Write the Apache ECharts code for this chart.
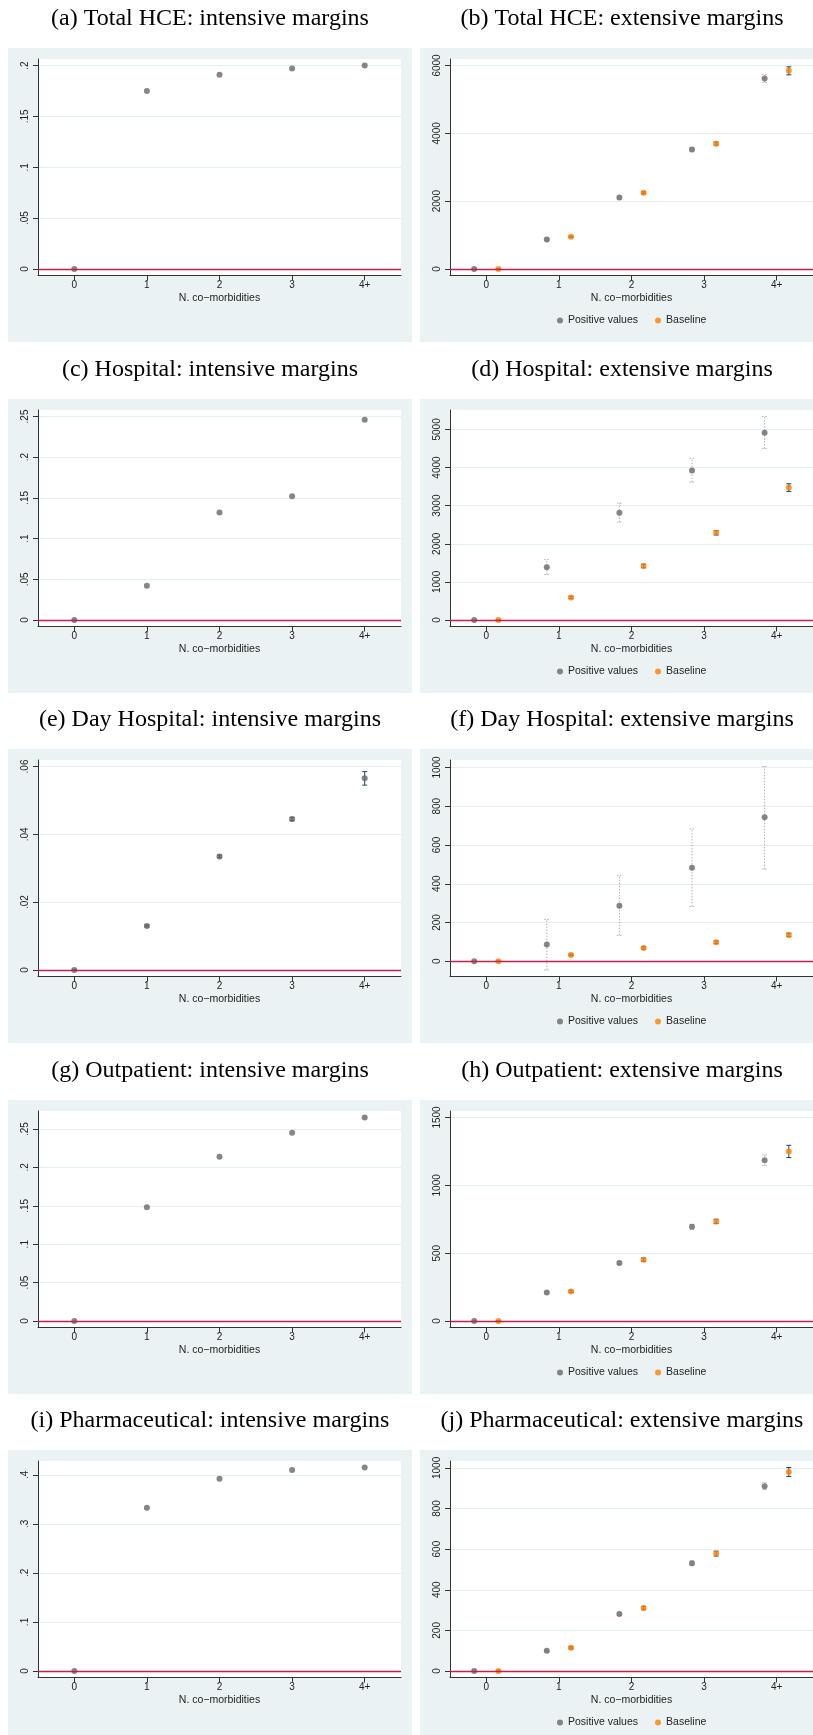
<!DOCTYPE html>
<html>
<head>
<meta charset="utf-8">
<script src="https://cdn.jsdelivr.net/npm/echarts@6/dist/echarts.min.js"></script>
<style>
  html, body { margin: 0; padding: 0; background: #ffffff; }
  #chart { width: 813px; height: 1735px; }
</style>
</head>
<body>
<div id="chart"></div>
<script>
// ---- Data -------------------------------------------------------------
const categories = ['0', '1', '2', '3', '4+'];

const titles = [
  '(a) Total HCE: intensive margins',
  '(b) Total HCE: extensive margins',
  '(c) Hospital: intensive margins',
  '(d) Hospital: extensive margins',
  '(e) Day Hospital: intensive margins',
  '(f) Day Hospital: extensive margins',
  '(g) Outpatient: intensive margins',
  '(h) Outpatient: extensive margins',
  '(i) Pharmaceutical: intensive margins',
  '(j) Pharmaceutical: extensive margins'
];

// intensive margins
const totalInt = [0, 0.175, 0.191, 0.197, 0.200];
const hospInt = [0, 0.042, 0.132, 0.152, 0.246];
const dayInt = [0, 0.013, 0.0335, 0.0445, 0.0565];
const dayIntLo = [0, 0.0127, 0.0331, 0.0440, 0.0545];
const dayIntHi = [0, 0.0133, 0.0339, 0.0450, 0.0585];
const outInt = [0, 0.148, 0.214, 0.245, 0.265];
const pharmInt = [0, 0.333, 0.392, 0.410, 0.415];

// extensive margins: positive values and baseline, with confidence bounds
const totalPos = [0, 873, 2108, 3520, 5618];
const totalPosLo = [0, 840, 2060, 3460, 5500];
const totalPosHi = [0, 906, 2156, 3580, 5736];
const totalBase = [0, 951, 2245, 3696, 5843];
const totalBaseLo = [0, 935, 2215, 3650, 5725];
const totalBaseHi = [0, 967, 2275, 3742, 5961];

const hospPos = [0, 1383, 2817, 3922, 4913];
const hospPosLo = [0, 1191, 2565, 3617, 4496];
const hospPosHi = [0, 1583, 3070, 4243, 5339];
const hospBase = [0, 591, 1417, 2287, 3478];
const hospBaseLo = [0, 560, 1370, 2230, 3374];
const hospBaseHi = [0, 622, 1464, 2344, 3574];

const dayPos = [0, 86, 286, 482, 743];
const dayPosLo = [0, -45, 134, 283, 475];
const dayPosHi = [0, 216, 442, 683, 1005];
const dayBase = [0, 33, 69, 98, 136];
const dayBaseLo = [0, 29, 63, 91, 127];
const dayBaseHi = [0, 37, 75, 105, 145];

const outPos = [0, 210, 427, 694, 1185];
const outPosLo = [0, 203, 415, 676, 1145];
const outPosHi = [0, 217, 439, 712, 1225];
const outBase = [0, 218, 452, 734, 1250];
const outBaseLo = [0, 210, 440, 718, 1205];
const outBaseHi = [0, 226, 464, 750, 1295];

const pharmPos = [0, 100, 281, 531, 910];
const pharmPosLo = [0, 96, 274, 520, 893];
const pharmPosHi = [0, 104, 288, 542, 927];
const pharmBase = [0, 114, 310, 578, 980];
const pharmBaseLo = [0, 109, 302, 566, 958];
const pharmBaseHi = [0, 119, 318, 590, 1002];

// y-axis tick values
const ticksTotalInt = [0, 0.05, 0.1, 0.15, 0.2];
const ticksTotalExt = [0, 2000, 4000, 6000];
const ticksHospInt = [0, 0.05, 0.1, 0.15, 0.2, 0.25];
const ticksHospExt = [0, 1000, 2000, 3000, 4000, 5000];
const ticksDayInt = [0, 0.02, 0.04, 0.06];
const ticksDayExt = [0, 200, 400, 600, 800, 1000];
const ticksOutInt = [0, 0.05, 0.1, 0.15, 0.2, 0.25];
const ticksOutExt = [0, 500, 1000, 1500];
const ticksPharmInt = [0, 0.1, 0.2, 0.3, 0.4];
const ticksPharmExt = [0, 200, 400, 600, 800, 1000];

const legendNames = ['Positive values', 'Baseline'];
const xTitle = 'N. co\u2212morbidities';

// ---- Styling ----------------------------------------------------------
const SANS = '"Liberation Sans", Arial, Helvetica, sans-serif';
const SERIF = '"Liberation Serif", "Times New Roman", serif';
const GRAY = '#686868';
const ORANGE = '#ff7f00';
const NAVY = '#1a476f';
const CI_LIGHT = '#a3b4c6';
const ZERO_LINE = '#c41f4a';
const REGION_BG = '#eaf2f3';
const GRID_LINE = '#e4eef0';
const AXIS = '#333333';
const DODGE = 1 / 6;

const COL_LEFT = [8, 420];
const ROW_TOP = [48, 399, 749, 1100, 1450];
const PANEL_W = 404, PANEL_H = 294;
const PLOT_OFF_X = 30, PLOT_OFF_Y = 11, PLOT_W = 363, PLOT_H = 216.5;
const PLOT_MARGIN = 6.5;

// ---- Panels -----------------------------------------------------------
const panels = [
  { kind: 'int', val: totalInt, ticks: ticksTotalInt },
  { kind: 'ext', pos: totalPos, posLo: totalPosLo, posHi: totalPosHi,
    base: totalBase, baseLo: totalBaseLo, baseHi: totalBaseHi, ticks: ticksTotalExt },
  { kind: 'int', val: hospInt, ticks: ticksHospInt },
  { kind: 'ext', pos: hospPos, posLo: hospPosLo, posHi: hospPosHi,
    base: hospBase, baseLo: hospBaseLo, baseHi: hospBaseHi, ticks: ticksHospExt },
  { kind: 'int', val: dayInt, lo: dayIntLo, hi: dayIntHi, ticks: ticksDayInt },
  { kind: 'ext', pos: dayPos, posLo: dayPosLo, posHi: dayPosHi,
    base: dayBase, baseLo: dayBaseLo, baseHi: dayBaseHi, ticks: ticksDayExt },
  { kind: 'int', val: outInt, ticks: ticksOutInt },
  { kind: 'ext', pos: outPos, posLo: outPosLo, posHi: outPosHi,
    base: outBase, baseLo: outBaseLo, baseHi: outBaseHi, ticks: ticksOutExt },
  { kind: 'int', val: pharmInt, ticks: ticksPharmInt },
  { kind: 'ext', pos: pharmPos, posLo: pharmPosLo, posHi: pharmPosHi,
    base: pharmBase, baseLo: pharmBaseLo, baseHi: pharmBaseHi, ticks: ticksPharmExt }
];

function fmtTick(v) {
  if (Math.abs(v) < 1e-12) return '0';
  return String(+v.toFixed(6)).replace(/^0\./, '.').replace(/^-0\./, '-.');
}

function ciRenderer(color, dotted) {
  return function (params, api) {
    const x = api.value(0);
    const a = api.coord([x, api.value(1)]);
    const b = api.coord([x, api.value(2)]);
    const cw = 2.5;
    const style = { stroke: color, lineWidth: 1, lineDash: dotted ? [1.5, 1.5] : null, fill: null };
    return {
      type: 'group',
      children: [
        { type: 'line', shape: { x1: a[0], y1: a[1], x2: b[0], y2: b[1] }, style: style },
        { type: 'line', shape: { x1: a[0] - cw, y1: a[1], x2: a[0] + cw, y2: a[1] }, style: style },
        { type: 'line', shape: { x1: b[0] - cw, y1: b[1], x2: b[0] + cw, y2: b[1] }, style: style }
      ]
    };
  };
}

const grids = [], xAxes = [], yAxes = [], series = [], legends = [], graphics = [];

panels.forEach(function (p, k) {
  const row = Math.floor(k / 2), col = k % 2;
  const L = COL_LEFT[col], T = ROW_TOP[row];

  graphics.push({
    type: 'rect', z: -10, silent: true,
    shape: { x: L, y: T, width: PANEL_W, height: PANEL_H },
    style: { fill: REGION_BG }
  });
  graphics.push({
    type: 'text', silent: true, x: L + PANEL_W / 2, y: T - 29,
    style: { text: titles[k], fontFamily: SERIF, fontSize: 24, fill: '#000',
             align: 'center', verticalAlign: 'middle' }
  });

  grids.push({
    left: L + PLOT_OFF_X, top: T + PLOT_OFF_Y, width: PLOT_W, height: PLOT_H,
    show: true, backgroundColor: '#ffffff', borderWidth: 0
  });

  // value range covering data, bounds and ticks, plus a fixed pixel margin
  let vals = p.ticks.slice();
  if (p.kind === 'int') {
    vals = vals.concat(p.val, p.lo || [], p.hi || []);
  } else {
    vals = vals.concat(p.pos, p.posLo, p.posHi, p.base, p.baseLo, p.baseHi);
  }
  const lo = Math.min.apply(null, vals), hi = Math.max.apply(null, vals);
  const upp = (hi - lo) / (PLOT_H - 2 * PLOT_MARGIN);
  const yMin = lo - PLOT_MARGIN * upp, yMax = hi + PLOT_MARGIN * upp;

  const xTickVals = categories.map(function (c, i) { return i; });
  xAxes.push({
    type: 'value', gridIndex: k, min: -0.5, max: 4.5,
    axisLine: { show: true, onZero: false, lineStyle: { color: AXIS, width: 1 } },
    axisTick: { show: true, customValues: xTickVals, length: 5, lineStyle: { color: AXIS } },
    axisLabel: { customValues: xTickVals, formatter: function (v) { return categories[Math.round(v)]; },
                 margin: 5, fontSize: 10, color: '#222', fontFamily: SANS },
    splitLine: { show: false },
    name: xTitle, nameLocation: 'middle', nameGap: 17,
    nameTextStyle: { fontSize: 10.5, color: '#222', fontFamily: SANS }
  });
  yAxes.push({
    type: 'value', gridIndex: k, min: yMin, max: yMax,
    axisLine: { show: true, onZero: false, lineStyle: { color: AXIS, width: 1 } },
    axisTick: { show: true, customValues: p.ticks, length: 5, lineStyle: { color: AXIS } },
    axisLabel: { customValues: p.ticks, formatter: fmtTick, rotate: 90, margin: 8,
                 fontSize: 10, color: '#222', fontFamily: SANS },
    splitLine: { show: true, lineStyle: { color: GRID_LINE, width: 1 } }
  });

  // reference line at zero
  series.push({
    type: 'line', xAxisIndex: k, yAxisIndex: k, data: [], silent: true, z: 2,
    markLine: {
      silent: true, symbol: ['none', 'none'], label: { show: false },
      lineStyle: { color: ZERO_LINE, width: 1.4, type: 'solid' },
      data: [{ yAxis: 0 }]
    }
  });

  if (p.kind === 'int') {
    if (p.lo) {
      series.push({
        type: 'custom', xAxisIndex: k, yAxisIndex: k, z: 3, silent: true,
        renderItem: ciRenderer(NAVY, false), encode: { x: 0, y: [1, 2] },
        data: p.val.map(function (v, i) { return [i, p.lo[i], p.hi[i]]; })
      });
    }
    series.push({
      type: 'scatter', name: 'Margins', xAxisIndex: k, yAxisIndex: k, z: 4, silent: true,
      symbol: 'circle', symbolSize: 6, itemStyle: { color: GRAY },
      data: p.val.map(function (v, i) { return [i, v]; })
    });
  } else {
    series.push({
      type: 'custom', xAxisIndex: k, yAxisIndex: k, z: 3, silent: true,
      renderItem: ciRenderer(CI_LIGHT, true), encode: { x: 0, y: [1, 2] },
      data: p.pos.map(function (v, i) { return [i - DODGE, p.posLo[i], p.posHi[i]]; })
    });
    series.push({
      type: 'custom', xAxisIndex: k, yAxisIndex: k, z: 3, silent: true,
      renderItem: ciRenderer(NAVY, false), encode: { x: 0, y: [1, 2] },
      data: p.base.map(function (v, i) { return [i + DODGE, p.baseLo[i], p.baseHi[i]]; })
    });
    series.push({
      type: 'scatter', name: legendNames[0], xAxisIndex: k, yAxisIndex: k, z: 4, silent: true,
      symbol: 'circle', symbolSize: 6, itemStyle: { color: GRAY },
      data: p.pos.map(function (v, i) { return [i - DODGE, v]; })
    });
    series.push({
      type: 'scatter', name: legendNames[1], xAxisIndex: k, yAxisIndex: k, z: 4, silent: true,
      symbol: 'circle', symbolSize: 6, itemStyle: { color: ORANGE },
      data: p.base.map(function (v, i) { return [i + DODGE, v]; })
    });
    legends.push({
      data: legendNames, left: L + 132, top: T + 262, orient: 'horizontal',
      icon: 'circle', itemWidth: 6, itemHeight: 6, itemGap: 17, selectedMode: false,
      textStyle: { fontSize: 10.5, color: '#222', fontFamily: SANS }
    });
  }
});

const chart = echarts.init(document.getElementById('chart'), null, { renderer: 'canvas' });
chart.setOption({
  animation: false,
  backgroundColor: '#ffffff',
  graphic: { elements: graphics },
  grid: grids,
  xAxis: xAxes,
  yAxis: yAxes,
  legend: legends,
  series: series
});
</script>
</body>
</html>
